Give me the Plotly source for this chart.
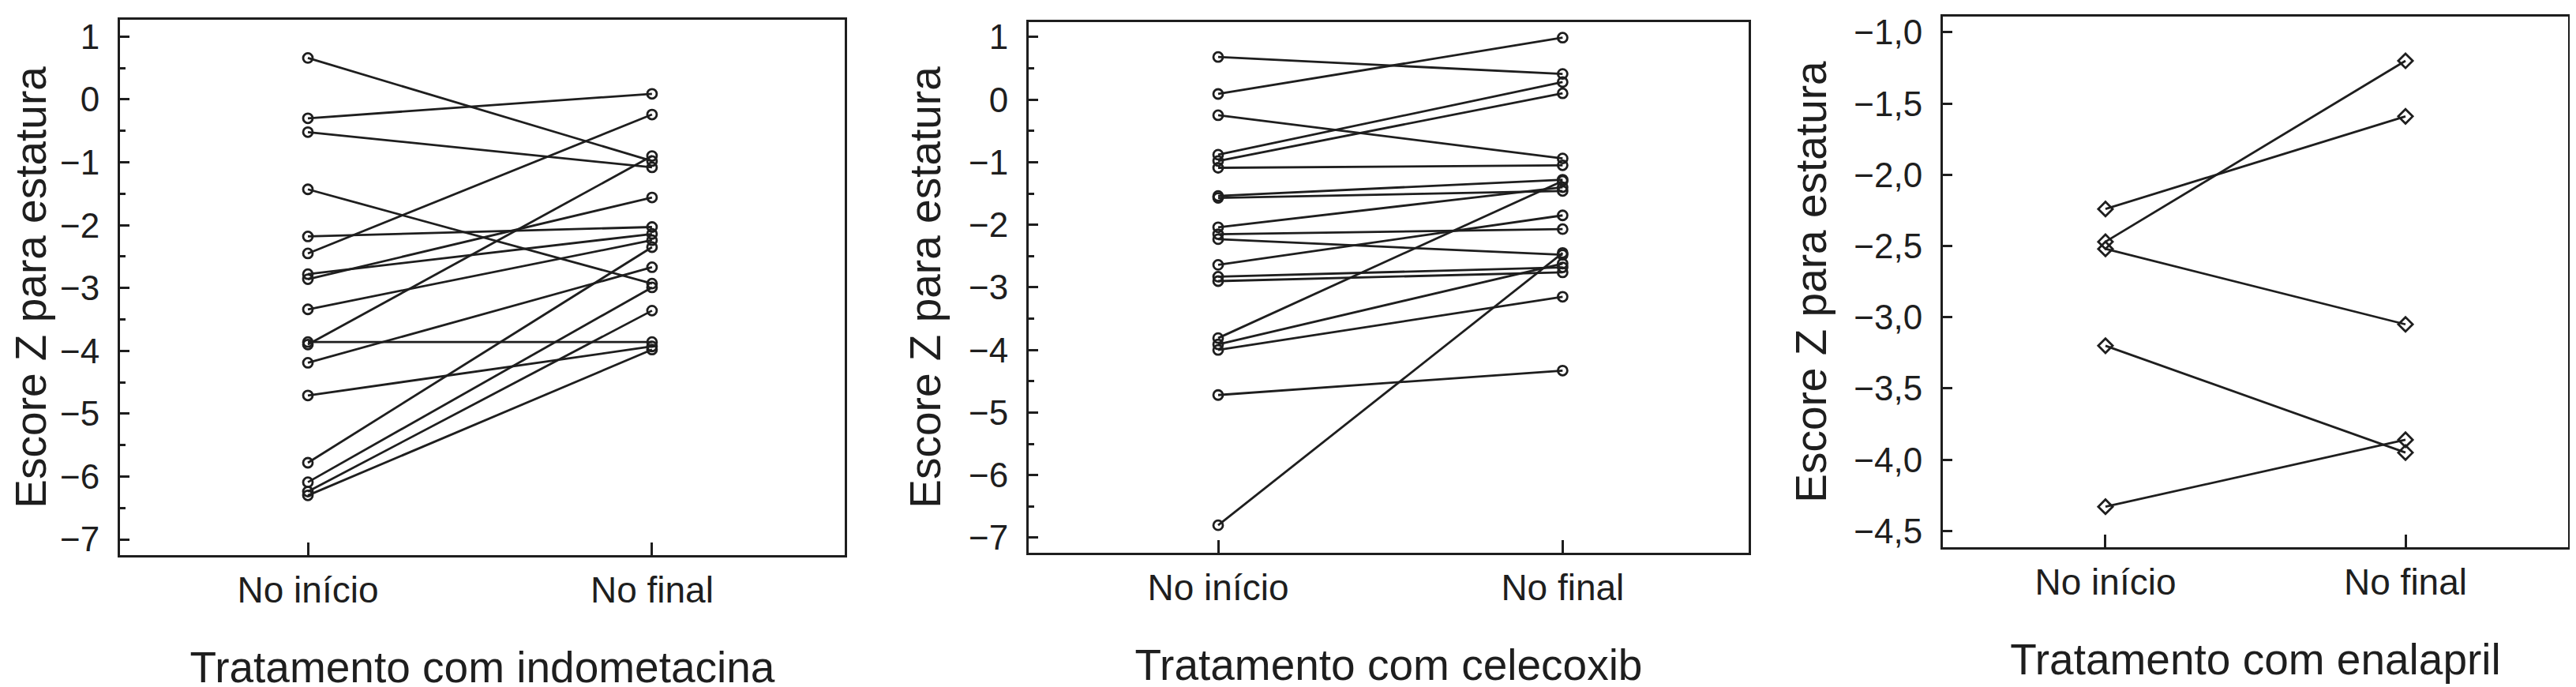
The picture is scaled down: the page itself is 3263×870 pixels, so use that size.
import plotly.graph_objects as go

# Escore Z para estatura, no inicio e no final de cada tratamento
categorias = ["No início", "No final"]

indo_inicio = [0.66, -0.30, -0.52, -1.43, -2.18, -2.45, -2.78, -2.86, -3.34,
               -3.86, -3.90, -4.19, -4.71, -5.78, -6.09, -6.24, -6.30]
indo_final = [-0.98, 0.09, -1.08, -2.93, -2.03, -0.24, -2.14, -1.56, -2.24,
              -3.86, -0.90, -2.67, -3.93, -2.35, -2.99, -3.36, -3.98]

cele_inicio = [0.68, 0.09, -0.25, -0.88, -0.98, -1.09, -1.54, -1.57, -2.04, -2.15,
               -2.23, -2.64, -2.83, -2.90, -3.81, -3.91, -4.00, -4.72, -6.80]
cele_final = [0.41, 0.99, -0.94, 0.28, 0.10, -1.05, -1.28, -1.46, -1.40, -2.07,
              -2.48, -1.85, -2.68, -2.76, -1.30, -2.62, -3.15, -4.33, -2.45]

enal_inicio = [-2.24, -2.47, -2.52, -3.20, -4.33]
enal_final = [-1.59, -1.20, -3.05, -3.95, -3.86]

paineis = [
    ("Tratamento com indometacina", indo_inicio, indo_final),
    ("Tratamento com celecoxib", cele_inicio, cele_final),
    ("Tratamento com enalapril", enal_inicio, enal_final),
]

FONTE = "Liberation Sans, Arial, Helvetica, sans-serif"
COR = "#1e1e1e"
W, H = 3263, 870

# caixas dos paineis em pixels (esq, dir, topo, base)
caixas = [(144, 1062, 12, 698), (1295, 2207, 15, 695), (2453, 3245, 8, 688)]
faixas_y = [[-7.25, 1.27], [-7.24, 1.24], [-4.615, -0.889]]
faixas_x = [[-0.546, 1.56], [-0.55, 1.54], [-0.542, 1.542]]


def pares(inicio, final):
    xs, ys = [], []
    for a, b in zip(inicio, final):
        xs += [categorias[0], categorias[1], None]
        ys += [a, b, None]
    return xs, ys


fig = go.Figure()
layout = {}
for i, (titulo, ini, fin) in enumerate(paineis):
    n = "" if i == 0 else str(i + 1)
    xs, ys = pares(ini, fin)
    simbolo = "diamond-open" if i == 2 else "circle-open"
    fig.add_trace(
        go.Scatter(
            x=xs, y=ys, mode="lines+markers",
            xaxis="x" + n, yaxis="y" + n,
            line=dict(color=COR, width=2.8),
            marker=dict(symbol=simbolo, size=12 if i < 2 else 14, color=COR,
                        line=dict(width=2.8, color=COR)),
            showlegend=False, hoverinfo="y",
        )
    )
    e, d, t, b = caixas[i]
    eixo = dict(
        showline=True, mirror=True, linecolor=COR, linewidth=3,
        showgrid=False, zeroline=False,
        tickfont=dict(family=FONTE, size=44, color=COR),
    )
    layout["xaxis" + n] = dict(
        eixo, domain=[e / W, d / W], anchor="y" + n,
        type="category", categoryorder="array", categoryarray=categorias,
        range=faixas_x[i], ticks="inside", ticklen=16, tickwidth=3, tickcolor=COR,
        ticklabelstandoff=2,
        tickfont=dict(family=FONTE, size=46, color=COR),
        title=dict(text=titulo, standoff=54, font=dict(family=FONTE, size=55, color=COR)),
    )
    yeixo = dict(
        eixo, domain=[1 - b / H, 1 - t / H], anchor="x" + n,
        range=faixas_y[i], ticks="inside", ticklen=12, tickwidth=3, tickcolor=COR,
        ticklabelstandoff=14,
        title=dict(text="Escore Z para estatura", standoff=18,
                   font=dict(family=FONTE, size=55, color=COR)),
    )
    if i < 2:
        yeixo.update(tick0=0, dtick=1,
                     minor=dict(ticks="inside", ticklen=7, tickwidth=3,
                                tickcolor=COR, dtick=0.5, tick0=0))
    else:
        yeixo.update(tick0=-1, dtick=0.5, tickformat=".1f")
    layout["yaxis" + n] = yeixo

fig.update_layout(
    **layout,
    width=W, height=H,
    margin=dict(l=0, r=0, t=0, b=0),
    paper_bgcolor="white", plot_bgcolor="white",
    separators=",.",
    font=dict(family=FONTE, color=COR),
)

fig.write_html("out.html")
